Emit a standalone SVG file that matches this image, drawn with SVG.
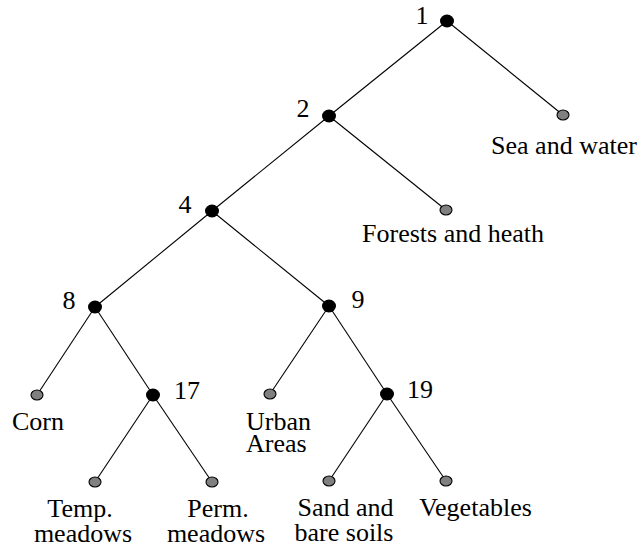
<svg xmlns="http://www.w3.org/2000/svg" width="639" height="548" viewBox="0 0 639 548" font-family="'Liberation Serif', 'DejaVu Serif', 'Times New Roman', serif" font-size="26">
<style>
.edge{stroke:#000;stroke-width:1.1;fill:none}
.inner{fill:#000;stroke:none}
.leaf{fill:#808080;stroke:#000;stroke-width:1.1}
text{font-family:'Liberation Serif','DejaVu Serif',serif;font-size:26px;fill:#000}
.m{text-anchor:middle}
</style>
<rect width="639" height="548" fill="#fff"/>
<g id="edges">
<line class="edge" x1="447" y1="21" x2="329" y2="116"/>
<line class="edge" x1="447" y1="21" x2="563" y2="115"/>
<line class="edge" x1="329" y1="116" x2="212" y2="211"/>
<line class="edge" x1="329" y1="116" x2="446" y2="210"/>
<line class="edge" x1="212" y1="211" x2="95" y2="307"/>
<line class="edge" x1="212" y1="211" x2="329" y2="306"/>
<line class="edge" x1="95" y1="307" x2="37" y2="395"/>
<line class="edge" x1="95" y1="307" x2="153" y2="395"/>
<line class="edge" x1="329" y1="306" x2="270" y2="394"/>
<line class="edge" x1="329" y1="306" x2="387" y2="394"/>
<line class="edge" x1="153" y1="395" x2="95" y2="482"/>
<line class="edge" x1="153" y1="395" x2="212" y2="482"/>
<line class="edge" x1="387" y1="394" x2="329" y2="481"/>
<line class="edge" x1="387" y1="394" x2="446" y2="481"/>
</g>
<g id="n1"><ellipse class="inner" cx="447" cy="21" rx="7" ry="6.5"/><text class="m" x="422" y="24">1</text></g>
<g id="n2"><ellipse class="inner" cx="329" cy="116" rx="7" ry="6.5"/><text class="m" x="303" y="117">2</text></g>
<g id="n4"><ellipse class="inner" cx="212" cy="211" rx="7" ry="6.5"/><text class="m" x="185" y="213">4</text></g>
<g id="n8"><ellipse class="inner" cx="95" cy="307" rx="7" ry="6.5"/><text class="m" x="69" y="309">8</text></g>
<g id="n9"><ellipse class="inner" cx="329" cy="306" rx="7" ry="6.5"/><text class="m" x="358" y="308">9</text></g>
<g id="n17"><ellipse class="inner" cx="153" cy="395" rx="7" ry="6.5"/><text class="m" x="187" y="399">17</text></g>
<g id="n19"><ellipse class="inner" cx="387" cy="394" rx="7" ry="6.5"/><text class="m" x="420" y="398">19</text></g>
<g id="sea"><ellipse class="leaf" cx="563" cy="115" rx="6" ry="5"/><text class="m" x="564" y="154">Sea and water</text></g>
<g id="forests"><ellipse class="leaf" cx="446" cy="210" rx="6" ry="5"/><text class="m" x="453" y="241.5">Forests and heath</text></g>
<g id="corn"><ellipse class="leaf" cx="37" cy="395" rx="6" ry="5"/><text class="m" x="38" y="430">Corn</text></g>
<g id="urban"><ellipse class="leaf" cx="270" cy="394" rx="6" ry="5"/><text x="246" y="429.5">Urban</text><text x="246" y="452">Areas</text></g>
<g id="temp"><ellipse class="leaf" cx="95" cy="482" rx="6" ry="5"/><text class="m" x="80" y="517">Temp.</text><text class="m" x="83" y="542">meadows</text></g>
<g id="perm"><ellipse class="leaf" cx="212" cy="482" rx="6" ry="5"/><text class="m" x="218" y="517">Perm.</text><text class="m" x="216" y="542">meadows</text></g>
<g id="sand"><ellipse class="leaf" cx="329" cy="481" rx="6" ry="5"/><text class="m" x="345.5" y="516">Sand and</text><text class="m" x="344" y="541">bare soils</text></g>
<g id="veg"><ellipse class="leaf" cx="446" cy="481" rx="6" ry="5"/><text class="m" x="475.5" y="516">Vegetables</text></g>
</svg>
